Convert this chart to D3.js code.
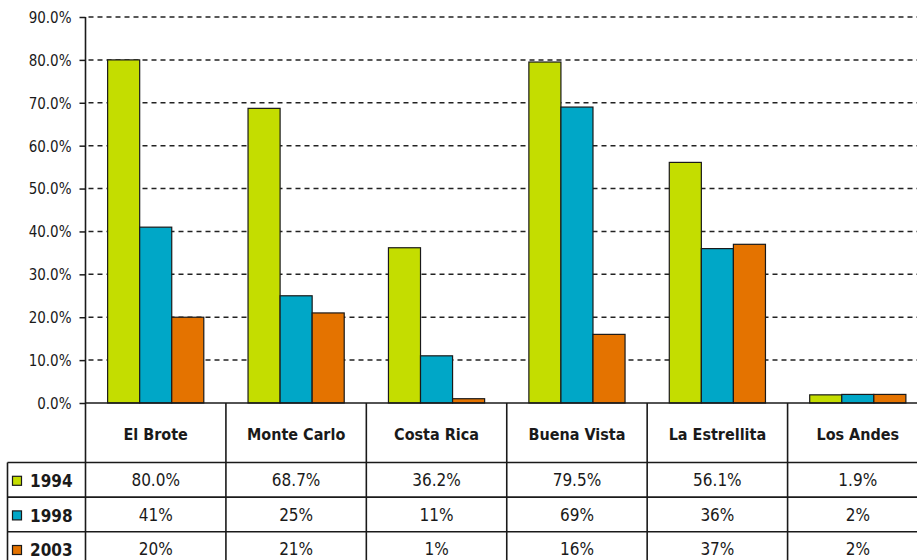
<!DOCTYPE html>
<html><head>
<meta charset="utf-8">
<script src="https://d3js.org/d3.v7.min.js"></script>
<style>
  body { margin: 0; background: #fff; }
  text { font-family: "Liberation Sans Narrow", "DejaVu Sans Condensed", sans-serif; fill: #1a1a1a; }
</style>
</head>
<body>
<div id="chart"></div>
<script>

// data
const categories = ['El Brote', 'Monte Carlo', 'Costa Rica', 'Buena Vista', 'La Estrellita', 'Los Andes'];
const years = ['1994', '1998', '2003'];
const v1994 = [80.0, 68.7, 36.2, 79.5, 56.1, 1.9];
const v1998 = [41, 25, 11, 69, 36, 2];
const v2003 = [20, 21, 1, 16, 37, 2];
const yTicks = [0, 10, 20, 30, 40, 50, 60, 70, 80, 90];

const series = [v1994, v1998, v2003];
const colors = ['#c4dd00', '#00a7c7', '#e47300'];
const fmt = [d => d.toFixed(1) + '%', d => d + '%', d => d + '%'];

// constants
const W = 917, H = 560;
const x0 = 85.5, xEnd = 928;
const yTop = 17, yBase = 403;
const rowTop = 462.5, rowH = 34.6;
const ink = '#1a1a1a';

const svg = d3.select('#chart').append('svg')
  .attr('width', W).attr('height', H);

const scX = d3.scaleBand().domain(categories).range([x0, xEnd]);
const scSub = d3.scaleBand().domain(years).range([0, scX.bandwidth()]).paddingInner(0).paddingOuter(0.69);
const scY = d3.scaleLinear().domain([0, 90]).range([yBase, yTop]);

// grid lines
svg.append('g').selectAll('line').data(yTicks.filter(d => d > 0)).join('line')
  .attr('x1', x0 + 3).attr('x2', W)
  .attr('y1', d => scY(d)).attr('y2', d => scY(d))
  .attr('stroke', '#222').attr('stroke-width', 1.5)
  .attr('stroke-dasharray', '5,4');

// bars
categories.forEach((c, i) => {
  const g = svg.append('g').attr('transform', `translate(${scX(c)},0)`);
  years.forEach((yr, j) => {
    const v = series[j][i];
    g.append('rect')
      .attr('x', scSub(yr))
      .attr('y', scY(v))
      .attr('width', scSub.bandwidth())
      .attr('height', scY(0) - scY(v))
      .attr('fill', colors[j])
      .attr('stroke', ink).attr('stroke-width', 1.2);
  });
});

// y axis
const yAxis = svg.append('g')
  .attr('transform', `translate(${x0},0)`)
  .call(d3.axisLeft(scY).tickValues(yTicks).tickSize(6).tickFormat(d => d.toFixed(1) + '%'));
yAxis.select('.domain').remove();
yAxis.selectAll('.tick line').attr('stroke', ink).attr('stroke-width', 1.5);
yAxis.selectAll('.tick text')
  .attr('x', -14)
  .attr('dy', '0.36em')
  .style('font-size', '15px')
  .attr('fill', ink);

// axis lines and table grid
const lines = svg.append('g').attr('stroke', ink).attr('stroke-width', 1.6);
lines.append('line').attr('x1', x0).attr('x2', x0).attr('y1', yTop).attr('y2', H);
lines.append('line').attr('x1', x0).attr('x2', W).attr('y1', yBase).attr('y2', yBase);
lines.selectAll('.vsep').data(categories.slice(1)).join('line')
  .attr('x1', d => scX(d)).attr('x2', d => scX(d))
  .attr('y1', yBase).attr('y2', H);
lines.append('line').attr('x1', 7.5).attr('x2', 7.5).attr('y1', rowTop).attr('y2', H);
lines.selectAll('.hsep').data(years).join('line')
  .attr('x1', 7.5).attr('x2', W)
  .attr('y1', (d, j) => rowTop + j * rowH).attr('y2', (d, j) => rowTop + j * rowH);

// category labels
svg.append('g').selectAll('text').data(categories).join('text')
  .attr('x', d => scX(d) + scX.bandwidth() / 2)
  .attr('y', 434)
  .attr('dy', '0.36em')
  .attr('text-anchor', 'middle')
  .style('font-size', '16px')
  .style('font-weight', 'bold')
  .text(d => d);

// table rows
years.forEach((yr, j) => {
  const cy = rowTop + j * rowH + rowH / 2;
  svg.append('rect')
    .attr('x', 12.5).attr('y', cy - 3.5).attr('width', 9).attr('height', 9)
    .attr('fill', colors[j]).attr('stroke', ink).attr('stroke-width', 1.2);
  svg.append('text')
    .attr('x', 30).attr('y', cy + 1).attr('dy', '0.36em')
    .style('font-size', '17px').style('font-weight', 'bold')
    .text(yr);
  svg.append('g').selectAll('text').data(categories).join('text')
    .attr('x', d => scX(d) + scX.bandwidth() / 2)
    .attr('y', cy)
    .attr('dy', '0.36em')
    .attr('text-anchor', 'middle')
    .style('font-size', '17px')
    .text((d, i) => fmt[j](series[j][i]));
});

</script>
</body></html>
